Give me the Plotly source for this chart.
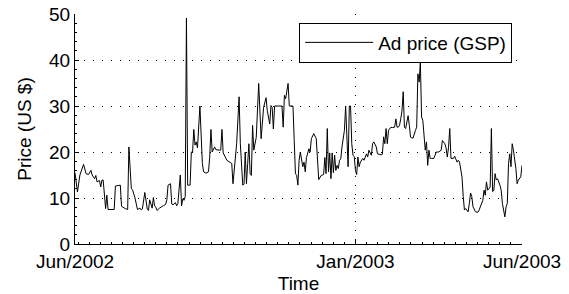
import plotly.graph_objects as go

# Day index (0 = Jun/2002 at axis start) and ad price
day = [0, 2, 4, 7, 9, 11, 13, 14, 16, 17, 18, 20, 21, 22, 23, 25, 26, 27, 32, 33,
       37, 38, 41, 43, 44, 46, 47, 49, 51, 53, 54, 55, 57, 59, 60, 61, 63, 64, 65, 66,
       67, 69, 72, 74, 75, 76, 78, 79, 80, 82, 83, 84, 86, 87, 88, 89, 90, 91, 92, 94,
       95, 96, 97, 98, 99, 100, 102, 103, 104, 105, 107, 109, 110, 111, 112, 114, 115, 118, 119, 120,
       121, 124, 126, 128, 129, 130, 132, 134, 135, 137, 138, 139, 140, 141, 142, 143, 144, 145, 146, 148,
       149, 150, 152, 153, 154, 156, 157, 159, 160, 161, 162, 163, 165, 169, 170, 171, 172, 173, 174, 175,
       178, 179, 180, 181, 182, 183, 184, 186, 187, 188, 189, 191, 192, 193, 195, 197, 198, 199, 201, 203,
       204, 205, 206, 207, 208, 209, 210, 211, 212, 213, 214, 215, 216, 217, 218, 220, 221, 222, 223, 224,
       225, 226, 227, 228, 229, 230, 231, 232, 233, 235, 236, 238, 239, 240, 242, 243, 244, 246, 247, 250,
       251, 252, 253, 254, 255, 256, 257, 258, 259, 261, 262, 263, 264, 265, 266, 267, 268, 269, 270, 272,
       273, 274, 275, 276, 278, 279, 280, 281, 282, 283, 284, 285, 286, 287, 288, 289, 290, 291, 293, 295,
       296, 297, 299, 300, 302, 303, 304, 305, 306, 307, 309, 310, 312, 313, 314, 316, 317, 318, 319, 321,
       322, 323, 324, 325, 327, 329, 330, 332, 333, 334, 335, 336, 337, 338, 339, 340, 341, 342, 343, 344,
       345, 347, 348, 349, 351, 352, 353, 354, 355, 356, 357, 358, 360, 361, 362, 364, 365]

price = [15.5, 11.3, 15.0, 17.3, 15.3, 15.1, 16.0, 15.0, 14.2, 14.9, 13.5, 13.8, 12.4, 13.9, 13.9, 7.7, 10.6, 7.5, 7.5, 12.6,
         12.8, 8.2, 7.7, 7.5, 21.1, 12.0, 11.8, 10.0, 7.5, 7.8, 7.4, 7.6, 11.2, 7.6, 7.3, 9.6, 7.8, 10.1, 8.3, 8.0,
         7.3, 7.8, 8.3, 8.6, 9.6, 12.8, 13.1, 8.7, 8.5, 9.0, 8.3, 8.8, 15.0, 8.3, 9.8, 9.5, 10.3, 49.1, 12.8, 12.8,
         20.0, 20.0, 24.9, 21.5, 22.2, 20.9, 30.0, 23.2, 17.5, 15.7, 15.4, 15.7, 18.9, 24.9, 20.0, 21.1, 20.5, 20.4, 20.4, 24.9,
         19.8, 18.2, 17.8, 17.5, 13.1, 16.0, 21.8, 32.0, 21.8, 12.8, 13.0, 20.0, 13.1, 17.5, 21.8, 15.3, 14.9, 25.8, 20.4, 23.2,
         29.0, 34.9, 22.9, 26.1, 29.7, 31.8, 29.0, 26.1, 30.1, 29.7, 25.0, 30.0, 30.0, 30.0, 25.4, 32.3, 31.6, 33.4, 34.9, 30.0,
         30.0, 22.5, 15.3, 14.9, 12.8, 18.2, 20.0, 16.8, 17.8, 15.7, 18.8, 20.7, 20.0, 22.9, 24.0, 22.9, 16.8, 14.0, 14.9, 15.1,
         18.8, 15.3, 25.1, 15.7, 19.8, 14.2, 19.8, 15.5, 19.3, 16.0, 17.1, 16.4, 18.2, 18.5, 21.1, 24.7, 30.0, 21.8, 16.8, 30.0,
         30.0, 21.8, 19.3, 19.0, 16.0, 15.1, 18.9, 16.8, 17.8, 18.6, 18.2, 19.6, 18.9, 20.4, 19.3, 21.8, 22.2, 21.1, 19.6, 19.4,
         19.5, 23.3, 21.8, 25.1, 21.8, 24.7, 25.1, 25.4, 25.3, 25.4, 27.2, 25.4, 25.4, 25.8, 27.2, 29.0, 33.1, 25.4, 25.1, 27.9,
         25.8, 23.2, 23.1, 23.0, 24.7, 25.4, 37.0, 35.2, 39.5, 27.6, 26.9, 24.0, 20.4, 22.2, 17.1, 20.4, 18.6, 18.6, 18.6, 20.0,
         20.0, 20.0, 20.4, 22.5, 21.8, 20.9, 18.9, 21.0, 25.1, 18.6, 18.6, 19.1, 17.8, 18.2, 17.8, 14.6, 10.3, 7.4, 7.7, 7.0,
         8.8, 11.1, 10.3, 8.1, 7.0, 6.9, 7.4, 8.8, 9.5, 11.7, 10.6, 13.5, 11.7, 12.0, 12.4, 25.1, 11.4, 11.7, 15.3, 13.9,
         14.2, 12.8, 11.7, 8.8, 5.9, 8.1, 8.8, 17.5, 19.6, 16.8, 21.8, 20.4, 16.4, 13.1, 13.9, 14.6, 17.1]

tick_days = [0, 229, 365]
tick_labels = ["Jun/2002", "Jan/2003", "Jun/2003"]
series_name = "Ad price (GSP)"

FONT = "Liberation Sans, Arial, Helvetica, sans-serif"

fig = go.Figure()
fig.add_trace(go.Scatter(x=day, y=price, mode="lines", name=series_name,
                         line=dict(color="black", width=1), hoverinfo="skip"))

axis_common = dict(
    showline=True, linecolor="black", linewidth=1,
    ticks="inside", ticklen=4, tickcolor="black", tickwidth=1,
    showgrid=True, gridcolor="black", gridwidth=1, griddash="1px,8px",
    zeroline=False, mirror=False, automargin=False,
    tickfont=dict(family=FONT, size=19, color="black"),
)

fig.update_xaxes(range=[0, 365], tickmode="array", tickvals=tick_days, ticktext=tick_labels,
                 title=dict(text="Time", font=dict(family=FONT, size=19, color="black"), standoff=5),
                 minor=dict(ticks="inside", ticklen=2, tickcolor="black", tick0=229, dtick=9.06, showgrid=False),
                 **axis_common)
fig.update_yaxes(range=[0, 50], tickmode="linear", tick0=0, dtick=10,
                 title=dict(text="Price (US $)", font=dict(family=FONT, size=19, color="black"), standoff=12),
                 minor=dict(ticks="inside", ticklen=2, tickcolor="black", dtick=2, showgrid=False),
                 **axis_common)

fig.update_layout(
    width=569, height=294,
    margin=dict(l=75, r=47, t=14, b=50, pad=0),
    paper_bgcolor="white", plot_bgcolor="white",
    font=dict(family=FONT, size=19, color="black"),
    showlegend=True, hovermode=False,
    legend=dict(x=0.978, xanchor="right", y=0.963, yanchor="top",
                bgcolor="white", bordercolor="black", borderwidth=1,
                font=dict(family=FONT, size=19, color="black"),
                itemwidth=68, tracegroupgap=0),
)

fig.write_html("out.html", config={"displayModeBar": False, "staticPlot": True},
               post_script="document.body.style.margin='0';")
